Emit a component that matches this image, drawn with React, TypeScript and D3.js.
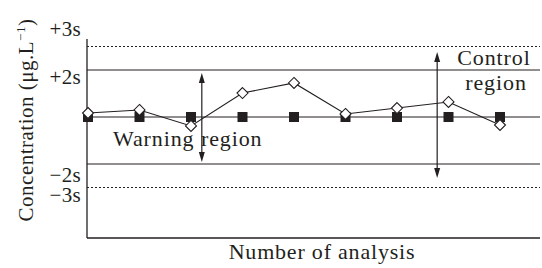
import React from "react";
import * as d3 from "d3";

// analysis number (index) and values in units of s around the mean
const runs = [1, 2, 3, 4, 5, 6, 7, 8, 9];
const reference = [0, 0, 0, 0, 0, 0, 0, 0, 0];
const measured = [0.17, 0.3, -0.38, 1.02, 1.45, 0.13, 0.38, 0.64, -0.34];

const limitValues = [3, 2, 0, -2, -3];
const limitLabels = ["+3s", "+2s", "", "\u22122s", "\u22123s"];
const limitDashed = [true, false, false, false, true];

const warningArrow = { run: 3.21, from: 1.87, to: -1.91 };
const controlArrow = { run: 7.78, from: 2.77, to: -2.6 };

const W = 542,
  H = 268;
const margin = { top: 39, right: 2, bottom: 30, left: 88 };
const FONT = "Liberation Serif";
const ink = "#231f20";

const x = d3.scaleLinear().domain([1, 9]).range([88, 500]);
const y = d3
  .scaleLinear()
  .domain([-5.15, 3.32])
  .range([H - margin.bottom, margin.top]);

// small nudges so the tick labels sit where the original put them
const labelDy: { [k: string]: number } = {
  "+3s": -17.5,
  "+2s": 7,
  "\u22122s": 11,
  "\u22123s": 7.5,
};

const diamond = (cx: number, cy: number, r: number) =>
  `M${cx},${cy - r}L${cx + r},${cy}L${cx},${cy + r}L${cx - r},${cy}Z`;

const line = d3
  .line<number>()
  .x((_, i) => x(runs[i]))
  .y((d) => y(d));

function Arrow({ a }: { a: { run: number; from: number; to: number } }) {
  const ax = x(a.run);
  const y1 = y(a.from),
    y2 = y(a.to);
  return (
    <g>
      <line x1={ax} x2={ax} y1={y1 + 4} y2={y2 - 4} stroke={ink} strokeWidth={1.2} />
      <path d={`M${ax},${y1}L${ax - 3},${y1 + 10}L${ax + 3},${y1 + 10}Z`} fill={ink} />
      <path d={`M${ax},${y2}L${ax - 3},${y2 - 10}L${ax + 3},${y2 - 10}Z`} fill={ink} />
    </g>
  );
}

export default function App() {
  const left = margin.left - 1;
  const right = W - margin.right;
  return (
    <div style={{ position: "absolute", left: 0, top: 0 }}>
      <svg width={W} height={H}>
        {/* limit lines */}
        {limitValues.map((v, i) => (
          <line
            key={v}
            x1={left}
            x2={right}
            y1={y(v)}
            y2={y(v)}
            stroke={ink}
            strokeWidth={1.2}
            strokeDasharray={limitDashed[i] ? "2,2" : undefined}
          />
        ))}
        {limitValues.map((v, i) =>
          limitLabels[i] ? (
            <text
              key={"l" + v}
              x={81}
              y={y(v) + labelDy[limitLabels[i]]}
              dy="0.35em"
              textAnchor="end"
              fontSize={21}
              letterSpacing={0.3}
              fill={ink}
              fontFamily={FONT}
            >
              {limitLabels[i]}
            </text>
          ) : null
        )}

        {/* axes */}
        <line x1={left} x2={left} y1={margin.top} y2={H - margin.bottom} stroke={ink} strokeWidth={1.3} />
        <line x1={left} x2={right} y1={H - margin.bottom} y2={H - margin.bottom} stroke={ink} strokeWidth={1.3} />

        {/* region annotations */}
        <text x={113} y={146} fontSize={22} letterSpacing={0.9} fill={ink} fontFamily={FONT}>
          Warning region
        </text>
        <text x={494} y={65} fontSize={22} letterSpacing={0.9} fill={ink} textAnchor="middle" fontFamily={FONT}>
          Control
        </text>
        <text x={496} y={90} fontSize={22} letterSpacing={0.9} fill={ink} textAnchor="middle" fontFamily={FONT}>
          region
        </text>
        <Arrow a={warningArrow} />
        <Arrow a={controlArrow} />

        {/* series */}
        <path d={line(measured) || ""} fill="none" stroke={ink} strokeWidth={1.1} />
        {reference.map((v, i) => (
          <rect
            key={"r" + i}
            x={x(runs[i]) - 5}
            y={y(v) - 5}
            width={10}
            height={10}
            fill={ink}
          />
        ))}
        {measured.map((v, i) => (
          <path
            key={"m" + i}
            d={diamond(x(runs[i]), y(v), 5.5)}
            fill="#fff"
            stroke={ink}
            strokeWidth={1.1}
          />
        ))}

        {/* axis titles */}
        <text x={322} y={259} fontSize={22} letterSpacing={0.8} textAnchor="middle" fill={ink} fontFamily={FONT}>
          Number of analysis
        </text>
        <text
          transform={`translate(33,120) rotate(-90)`}
          fontSize={21}
          letterSpacing={0.5}
          textAnchor="middle"
          fill={ink}
          fontFamily={FONT}
        >
          Concentration (μg.L<tspan dy={-8} fontSize={13}>−1</tspan>
          <tspan dy={8}>)</tspan>
        </text>
      </svg>
    </div>
  );
}
